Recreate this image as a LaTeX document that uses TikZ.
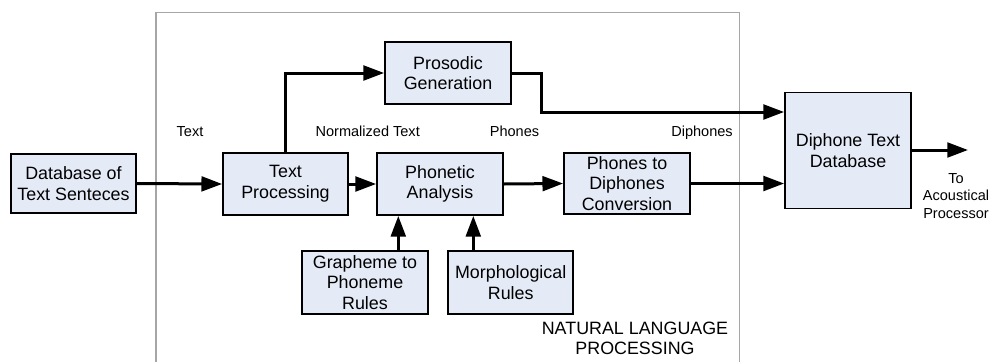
\documentclass[tikz,border=0pt]{standalone}
\usepackage{fontspec}
\setmainfont{Liberation Sans}
\usetikzlibrary{arrows.meta,calc}
\definecolor{boxfill}{RGB}{228,235,247}
\definecolor{framegray}{RGB}{166,166,166}
\tikzset{
  blk/.style={draw=black, line width=1.3pt, fill=boxfill, align=center, inner sep=0pt,
    font=\fontsize{13.4}{15.5}\selectfont},
  arr/.style={line width=2.25pt, -{Triangle[length=15.5pt,width=11pt]}},
  lbl/.style={font=\fontsize{10.9}{13}\selectfont, inner sep=0pt, align=center},
}
\begin{document}
\begin{tikzpicture}[x=0.75pt,y=-0.75pt]
\useasboundingbox (0,0) rectangle (993,361);
% frame
\draw[framegray, line width=0.8pt] (156,370) -- (156,12.5) -- (739.7,12.5) -- (739.7,370);
% boxes
\node[blk, minimum width=93.75pt, minimum height=44.25pt] (db) at (73.5,183.5) {Database of\\Text Senteces};
\node[blk, minimum width=93.75pt, minimum height=46.5pt] (tp) at (285.5,184) {Text\\Processing};
\node[blk, minimum width=94.5pt, minimum height=46.5pt] (pa) at (440,184) {Phonetic\\Analysis};
\node[blk, minimum width=94.5pt, minimum height=46.5pt] (pg) at (448,73) {Prosodic\\Generation};
\node[blk, minimum width=94.5pt, minimum height=47.25pt] (gp) at (365,282.5) {Grapheme to\\Phoneme\\Rules};
\node[blk, minimum width=93.75pt, minimum height=47.25pt] (mr) at (510.7,282.5) {Morphological\\Rules};
\node[blk, minimum width=94.5pt, minimum height=45.75pt] (pd) at (627,183.5) {Phones to\\Diphones\\Conversion};
\node[blk, minimum width=94.5pt, minimum height=87pt] (dtd) at (848,150.6) {Diphone Text\\Database};
% helper coordinates
\coordinate (bend) at (541.7,112);
\coordinate (ga) at (398.3,0);
\coordinate (ma) at (473.3,0);
\coordinate (out) at (968,150);
% connectors
\draw[arr] (db.east) -- (tp.west);
\draw[arr] (tp.east) -- (pa.west);
\draw[arr] (pa.east) -- (pd.west);
\draw[arr] (pd.east) -- (dtd.west |- pd.east);
\draw[arr] (tp.north) |- (pg.west);
\draw[arr] (pg.east) -| (bend) -- (dtd.west |- bend);
\draw[arr] (gp.north -| ga) -- (pa.south -| ga);
\draw[arr] (mr.north -| ma) -- (pa.south -| ma);
\draw[arr] (dtd.east |- out) -- (out);
% labels
\node[lbl] (l1) at (190,132) {Text};
\node[lbl] (l2) at (367.7,131) {Normalized Text};
\node[lbl] (l3) at (514.5,131) {Phones};
\node[lbl] (l4) at (702,133) {Diphones};
\node[lbl] (l5) at (956,196) {To\\Acoustical\\Processor};
\node[lbl, font=\fontsize{13.4}{15.5}\selectfont] (l6) at (635,338.5) {NATURAL LANGUAGE\\PROCESSING};
\end{tikzpicture}
\end{document}
